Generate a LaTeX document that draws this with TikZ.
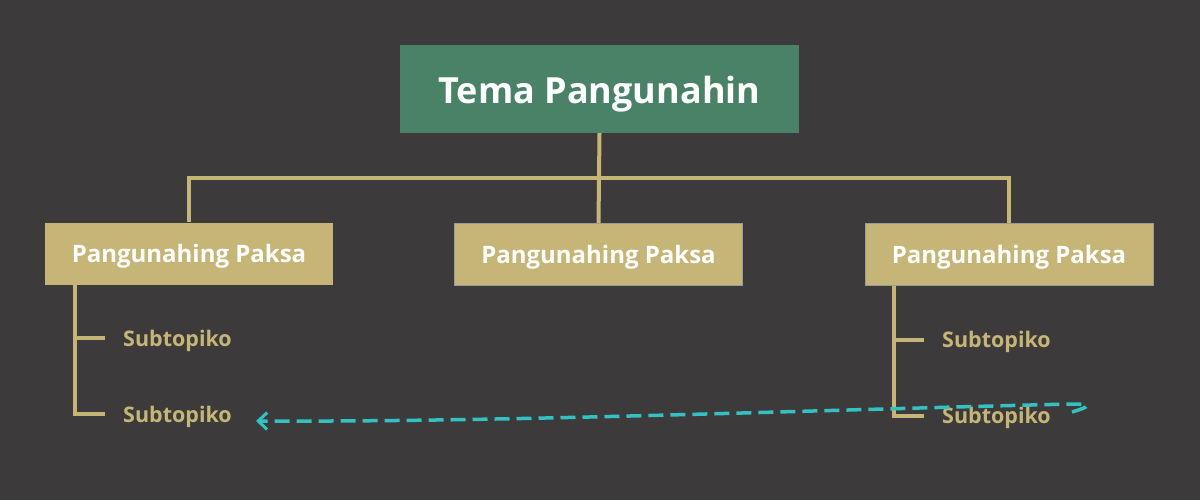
\documentclass[tikz,border=0pt]{standalone}
\usepackage{fontspec}
\setmainfont{Open Sans}
\usetikzlibrary{arrows.meta}
\definecolor{bg}{HTML}{3D3A3B}
\definecolor{topicgreen}{HTML}{4A8268}
\definecolor{gold}{HTML}{C5B577}
\definecolor{edgegray}{HTML}{9A9A9A}
\definecolor{teal}{HTML}{33C1C1}
\tikzset{
  rootbox/.style={fill=topicgreen, draw=none, minimum width=399pt, minimum height=88pt, inner sep=0pt,
    text height=30pt, text depth=0pt,
    text=white, font=\fontsize{36}{42}\selectfont\bfseries},
  mainbox/.style={fill=gold, minimum width=288pt, minimum height=62pt, inner sep=0pt,
    text height=17pt, text depth=0pt,
    text=white, font=\fontsize{24}{28}\selectfont\bfseries},
  subtext/.style={text=gold, anchor=base west, inner sep=0pt, font=\fontsize{21.5}{25}\selectfont\bfseries},
  link/.style={draw=gold, line width=4pt},
  relation/.style={draw=teal, line width=3.5pt, dash pattern=on 15pt off 7pt, -{Straight Barb[length=9pt,width=17pt,line width=3pt]}}
}
\begin{document}
\begin{tikzpicture}[x=1pt,y=-1pt]
\fill[bg] (0,0) rectangle (1200,500);
\useasboundingbox (0,0) rectangle (1200,500);
% root
\node[rootbox] (root) at (599.5,89) {Tema Pangunahin};
% main topics
\node[mainbox] (m1) at (189,253.5) {Pangunahing Paksa};
\node[mainbox, draw=edgegray, line width=1pt] (m2) at (598.5,254.5) {Pangunahing Paksa};
\node[mainbox, draw=edgegray, line width=1pt] (m3) at (1009,254.5) {Pangunahing Paksa};
% connectors
\coordinate (j) at (599,178);
\draw[link] (root.south) -- (j);
\draw[link] (m1.north) |- (j) -| (m3.north);
\draw[link] (j) -- (m2.north);
% subtopics left
\node[subtext] (s1) at (123,346) {Subtopiko};
\node[subtext] (s2) at (123,422) {Subtopiko};
\coordinate (l0) at (75,284);
\draw[link] (l0) -- (75,338) -- (105,338);
\draw[link] (75,338) -- (75,414) -- (105,414);
% subtopics right
\node[subtext] (s3) at (942,347) {Subtopiko};
\node[subtext] (s4) at (942,423) {Subtopiko};
\coordinate (r0) at (894,286);
\draw[link] (r0) -- (894,340) -- (924,340);
\draw[link] (894,340) -- (894,416) -- (924,416);
% relation
\coordinate (rs) at (1072,412);
\draw[relation] (rs) .. controls (1092,406) and (1092,404) .. (1070,404)
  .. controls (750,412) and (500,422) .. (256,421);
\end{tikzpicture}
\end{document}
